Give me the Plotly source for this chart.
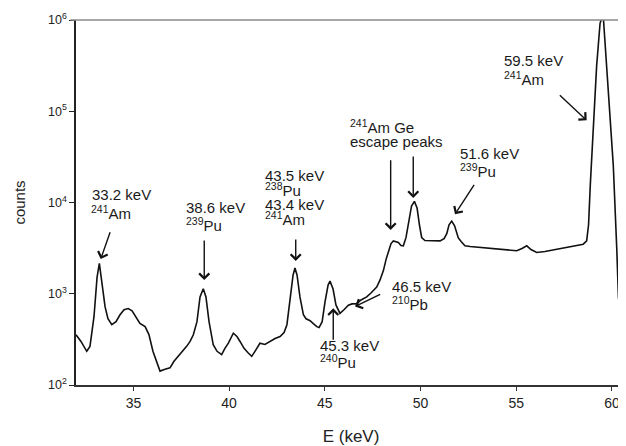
import plotly.graph_objects as go

# ---- data ----
energy_kev = [32.00, 32.26, 32.56, 32.73, 32.94, 33.10, 33.22, 33.36, 33.52, 33.67,
              33.87, 34.09, 34.30, 34.51, 34.73, 34.93, 35.13, 35.34, 35.61, 35.81,
              36.02, 36.22, 36.39, 36.65, 36.91, 37.12, 37.34, 37.54, 37.78, 37.96,
              38.13, 38.32, 38.48, 38.65, 38.79, 38.95, 39.17, 39.37, 39.61, 39.78,
              39.96, 40.22, 40.41, 40.57, 40.78, 41.00, 41.18, 41.35, 41.61, 41.87,
              42.14, 42.40, 42.66, 42.87, 43.02, 43.18, 43.34, 43.44, 43.55, 43.70,
              43.88, 44.02, 44.23, 44.40, 44.58, 44.70, 44.86, 45.01, 45.17, 45.27,
              45.43, 45.58, 45.79, 46.00, 46.23, 46.42, 46.67, 46.89, 47.19, 47.41,
              47.71, 47.88, 48.06, 48.20, 48.32, 48.46, 48.58, 48.72, 48.84, 48.98,
              49.10, 49.24, 49.40, 49.53, 49.68, 49.82, 49.95, 50.06, 50.23, 50.50,
              50.76, 51.02, 51.23, 51.37, 51.49, 51.63, 51.78, 51.88, 51.97, 52.12,
              52.32, 52.59, 52.94, 53.37, 53.80, 54.15, 54.57, 55.03, 55.30, 55.55,
              55.77, 56.07, 56.50, 57.11, 57.81, 58.50, 58.68, 58.78, 58.87, 59.03,
              59.20, 59.38, 59.47, 59.56, 59.73, 59.90, 60.07, 60.25, 60.34, 60.42,
              60.51, 60.60, 60.74]
counts = [355, 300, 234, 265, 560, 1510, 2150, 1340, 718, 532,
          458, 494, 589, 667, 689, 650, 560, 473, 436, 357,
          234, 175, 142, 149, 154, 182, 206, 228, 265, 300,
          355, 494, 923, 1135, 923, 494, 276, 234, 215, 252,
          287, 369, 340, 300, 252, 224, 206, 234, 287, 278,
          300, 323, 340, 376, 458, 814, 1596, 1914, 1596, 923,
          589, 532, 507, 470, 436, 426, 494, 814, 1245, 1374,
          1125, 755, 609, 667, 750, 774, 780, 855, 923, 1019,
          1183, 1409, 1795, 2383, 2958, 3548, 3795, 3730, 3640, 3376,
          3350, 4120, 6460, 9160, 10300, 8700, 5560, 4120, 3825, 3795,
          3775, 3795, 4020, 4560, 5700, 6250, 5560, 4560, 4120, 3730,
          3350, 3296, 3254, 3170, 3096, 3078, 3017, 2960, 3135, 3350,
          3055, 2836, 2906, 3078, 3296, 3493, 3795, 5740, 15600, 69700,
          312000, 920000, 1050000, 1000000, 312000, 91000, 25700, 3215, 923, 650,
          537, 458, 436]

x_tickvals = [35, 40, 45, 50, 55, 60]
x_ticktext = ["35", "40", "45", "50", "55", "60"]
y_tickvals = [1e2, 1e3, 1e4, 1e5, 1e6]
y_ticktext = ["10<sup>2</sup>", "10<sup>3</sup>", "10<sup>4</sup>", "10<sup>5</sup>", "10<sup>6</sup>"]

# label lines: (text, energy of left edge, log10(counts) of line centre)
label_lines = [
    ("33.2 keV", 32.73, 4.09), ("<sup>241</sup>Am", 32.68, 3.89),
    ("38.6 keV", 37.64, 3.94), ("<sup>239</sup>Pu", 37.64, 3.76),
    ("43.5 keV", 41.77, 4.30), ("<sup>238</sup>Pu", 41.77, 4.14),
    ("43.4 keV", 41.77, 3.98), ("<sup>241</sup>Am", 41.77, 3.82),
    ("<sup>241</sup>Am Ge", 46.21, 4.83), ("escape peaks", 46.21, 4.67),
    ("51.6 keV", 51.96, 4.54), ("<sup>239</sup>Pu", 51.96, 4.35),
    ("59.5 keV", 54.26, 5.56), ("<sup>241</sup>Am", 54.26, 5.36),
    ("46.5 keV", 48.40, 3.08), ("<sup>210</sup>Pb", 48.40, 2.89),
    ("45.3 keV", 44.64, 2.43), ("<sup>240</sup>Pu", 44.64, 2.26),
]
# arrows: (head energy, head log10 counts, tail energy, tail log10 counts)
arrows = [
    (33.29, 3.38, 33.81, 3.69),
    (38.70, 3.15, 38.70, 3.60),
    (43.48, 3.36, 43.48, 3.61),
    (48.44, 3.70, 48.44, 4.48),
    (49.62, 4.05, 49.62, 4.52),
    (51.80, 3.87, 52.85, 4.21),
    (58.68, 4.90, 57.20, 5.19),
    (46.58, 2.86, 47.97, 3.00),
    (45.44, 2.84, 45.44, 2.48),
]

FONT = "Liberation Sans, Arial, sans-serif"

fig = go.Figure()
fig.add_trace(go.Scatter(x=energy_kev, y=counts, mode="lines",
                         line=dict(color="#111111", width=1.6),
                         showlegend=False, hoverinfo="x+y"))

annotations = []
for text, ex, ly in label_lines:
    annotations.append(dict(x=ex, y=ly, xref="x", yref="y", text=text,
                            showarrow=False, xanchor="left", yanchor="middle",
                            font=dict(family=FONT, size=15, color="#1a1a1a")))
for hx, hy, tx, ty in arrows:
    annotations.append(dict(x=hx, y=hy, ax=tx, ay=ty, xref="x", yref="y",
                            axref="x", ayref="y", text="", showarrow=True,
                            arrowhead=4, arrowsize=1.4, arrowwidth=1.4,
                            arrowcolor="#111111", standoff=0, startstandoff=0))

# the page body has an 8 px margin, so the figure is 8 px smaller
fig.update_layout(
    width=618, height=438, autosize=False,
    margin=dict(l=68, r=0, t=12, b=57),
    paper_bgcolor="white", plot_bgcolor="white",
    font=dict(family=FONT, color="#222222"),
    annotations=annotations,
    shapes=[dict(type="line", xref="paper", yref="paper", x0=-0.01, x1=1, y0=1, y1=1,
                 line=dict(color="#8a8a8a", width=1.5))],
    xaxis=dict(range=[32, 60.735], tickvals=x_tickvals, ticktext=x_ticktext,
               ticks="outside", ticklen=4, tickwidth=1.2, tickcolor="#333",
               showline=True, linecolor="#333", linewidth=1.5,
               showgrid=False, zeroline=False,
               tickfont=dict(family=FONT, size=14, color="#222"),
               title=dict(text="E (keV)", font=dict(family=FONT, size=17, color="#222"),
                          standoff=24)),
    yaxis=dict(type="log", range=[2, 6], tickvals=y_tickvals, ticktext=y_ticktext,
               ticks="outside", ticklen=5, tickwidth=1.2, tickcolor="#222",
               showline=True, linecolor="#222", linewidth=1.5,
               showgrid=False, zeroline=False,
               tickfont=dict(family=FONT, size=12.5, color="#222"),
               title=dict(text="counts", font=dict(family=FONT, size=15, color="#222"),
                          standoff=19)),
)

fig.write_html("out.html")
